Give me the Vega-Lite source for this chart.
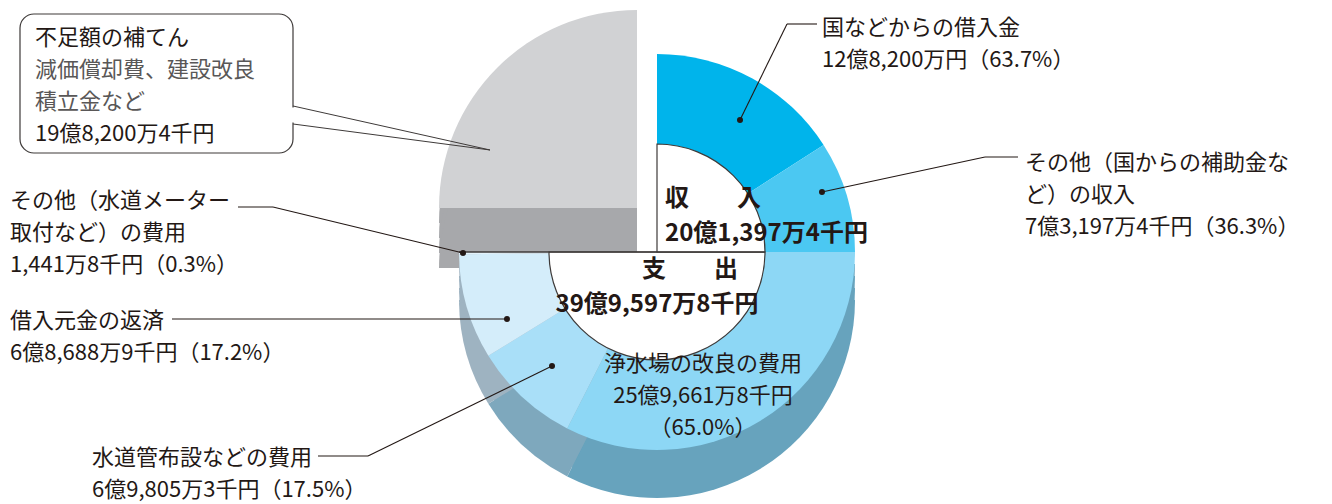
{
"$schema": "https://vega.github.io/schema/vega-lite/v6.json",
"width": 1332, "height": 504, "padding": 0, "autosize": {"type": "none"},
"background": "white",
"config": {"view": {"stroke": null}, "font": "Noto Sans CJK JP"},
"datasets": {
 "income": [
  {"key": "borrow", "item": "国などからの借入金", "amount": 128200, "share": 63.7, "rank": 1, "caption": ["国などからの借入金", "12億8,200万円（63.7%）"]},
  {"key": "subsidy", "item": "その他（国からの補助金など）の収入", "amount": 73197.4, "share": 36.3, "rank": 2, "caption": ["その他（国からの補助金な", "ど）の収入", "7億3,197万4千円（36.3%）"]}
 ],
 "expense": [
  {"key": "plant", "item": "浄水場の改良の費用", "amount": 259661.8, "share": 65.0, "rank": 1, "caption": ["浄水場の改良の費用", "25億9,661万8千円", "（65.0%）"]},
  {"key": "pipe", "item": "水道管布設などの費用", "amount": 69805.3, "share": 17.5, "rank": 2, "caption": ["水道管布設などの費用", "6億9,805万3千円（17.5%）"]},
  {"key": "loan", "item": "借入元金の返済", "amount": 68688.9, "share": 17.2, "rank": 3, "caption": ["借入元金の返済", "6億8,688万9千円（17.2%）"]},
  {"key": "other", "item": "その他（水道メーター取付など）の費用", "amount": 1441.8, "share": 0.3, "rank": 4, "caption": ["その他（水道メーター", "取付など）の費用", "1,441万8千円（0.3%）"]}
 ],
 "shortfall": [
  {"key": "fill", "item": "不足額の補てん", "detail": ["減価償却費、建設改良", "積立金など"], "amount": 198200.4, "yen": "19億8,200万4千円"}
 ],
 "totals": [
  {"key": "in", "title": "収　　入", "amount": 201397.4, "yen": "20億1,397万4千円"},
  {"key": "out", "title": "支　　出", "amount": 399597.8, "yen": "39億9,597万8千円"}
 ]
},
"resolve": {"scale": {"theta": "independent", "color": "independent"}},
"layer": [
 {"data": {"name": "shortfall"}, "mark": {"type": "arc", "outerRadius": 198, "fill": "#a7a8ab", "yOffset": 15},
  "encoding": {"x": {"datum": -0.101, "type": "quantitative", "scale": {"domain": [-3.3182, 3.4091], "nice": false, "zero": false}, "axis": null},
   "y": {"datum": 0.2222, "type": "quantitative", "scale": {"domain": [-1.2727, 1.2727], "nice": false, "zero": false}, "axis": null},
   "theta": {"field": "amount", "type": "quantitative", "stack": true, "scale": {"range": [4.7124, 6.2832], "nice": false}}}},
 {"data": {"name": "shortfall"}, "mark": {"type": "arc", "outerRadius": 198, "fill": "#a7a8ab", "yOffset": 30},
  "encoding": {"x": {"datum": -0.101, "type": "quantitative", "scale": {"domain": [-3.3182, 3.4091], "nice": false, "zero": false}, "axis": null},
   "y": {"datum": 0.2222, "type": "quantitative", "scale": {"domain": [-1.2727, 1.2727], "nice": false, "zero": false}, "axis": null},
   "theta": {"field": "amount", "type": "quantitative", "stack": true, "scale": {"range": [4.7124, 6.2832], "nice": false}}}},
 {"data": {"name": "shortfall"}, "mark": {"type": "arc", "outerRadius": 198, "fill": "#a7a8ab", "yOffset": 45},
  "encoding": {"x": {"datum": -0.101, "type": "quantitative", "scale": {"domain": [-3.3182, 3.4091], "nice": false, "zero": false}, "axis": null},
   "y": {"datum": 0.2222, "type": "quantitative", "scale": {"domain": [-1.2727, 1.2727], "nice": false, "zero": false}, "axis": null},
   "theta": {"field": "amount", "type": "quantitative", "stack": true, "scale": {"range": [4.7124, 6.2832], "nice": false}}}},
 {"data": {"name": "shortfall"}, "mark": {"type": "arc", "outerRadius": 198, "fill": "#a7a8ab", "yOffset": 60},
  "encoding": {"x": {"datum": -0.101, "type": "quantitative", "scale": {"domain": [-3.3182, 3.4091], "nice": false, "zero": false}, "axis": null},
   "y": {"datum": 0.2222, "type": "quantitative", "scale": {"domain": [-1.2727, 1.2727], "nice": false, "zero": false}, "axis": null},
   "theta": {"field": "amount", "type": "quantitative", "stack": true, "scale": {"range": [4.7124, 6.2832], "nice": false}}}},
 {"data": {"name": "shortfall"}, "mark": {"type": "arc", "outerRadius": 198, "fill": "#d1d2d4"},
  "encoding": {"x": {"datum": -0.101, "type": "quantitative", "scale": {"domain": [-3.3182, 3.4091], "nice": false, "zero": false}, "axis": null},
   "y": {"datum": 0.2222, "type": "quantitative", "scale": {"domain": [-1.2727, 1.2727], "nice": false, "zero": false}, "axis": null},
   "theta": {"field": "amount", "type": "quantitative", "stack": true, "scale": {"range": [4.7124, 6.2832], "nice": false}}}},

 {"data": {"name": "expense"}, "mark": {"type": "arc", "outerRadius": 198, "yOffset": 12},
  "encoding": {"x": {"datum": 0, "type": "quantitative", "scale": {"domain": [-3.3182, 3.4091], "nice": false, "zero": false}, "axis": null},
   "y": {"datum": 0, "type": "quantitative", "scale": {"domain": [-1.2727, 1.2727], "nice": false, "zero": false}, "axis": null},
   "theta": {"field": "amount", "type": "quantitative", "stack": true, "scale": {"range": [1.5708, 4.7124], "nice": false}},
   "order": {"field": "rank", "type": "quantitative"},
   "color": {"field": "item", "type": "nominal", "legend": null, "scale": {"domain": ["浄水場の改良の費用", "水道管布設などの費用", "借入元金の返済", "その他（水道メーター取付など）の費用"], "range": ["#67a3bd", "#7ea8bd", "#9eb3c1", "#9eb3c1"]}}}},
 {"data": {"name": "expense"}, "mark": {"type": "arc", "outerRadius": 198, "yOffset": 24},
  "encoding": {"x": {"datum": 0, "type": "quantitative", "scale": {"domain": [-3.3182, 3.4091], "nice": false, "zero": false}, "axis": null},
   "y": {"datum": 0, "type": "quantitative", "scale": {"domain": [-1.2727, 1.2727], "nice": false, "zero": false}, "axis": null},
   "theta": {"field": "amount", "type": "quantitative", "stack": true, "scale": {"range": [1.5708, 4.7124], "nice": false}},
   "order": {"field": "rank", "type": "quantitative"},
   "color": {"field": "item", "type": "nominal", "legend": null, "scale": {"domain": ["浄水場の改良の費用", "水道管布設などの費用", "借入元金の返済", "その他（水道メーター取付など）の費用"], "range": ["#67a3bd", "#7ea8bd", "#9eb3c1", "#9eb3c1"]}}}},
 {"data": {"name": "expense"}, "mark": {"type": "arc", "outerRadius": 198, "yOffset": 36},
  "encoding": {"x": {"datum": 0, "type": "quantitative", "scale": {"domain": [-3.3182, 3.4091], "nice": false, "zero": false}, "axis": null},
   "y": {"datum": 0, "type": "quantitative", "scale": {"domain": [-1.2727, 1.2727], "nice": false, "zero": false}, "axis": null},
   "theta": {"field": "amount", "type": "quantitative", "stack": true, "scale": {"range": [1.5708, 4.7124], "nice": false}},
   "order": {"field": "rank", "type": "quantitative"},
   "color": {"field": "item", "type": "nominal", "legend": null, "scale": {"domain": ["浄水場の改良の費用", "水道管布設などの費用", "借入元金の返済", "その他（水道メーター取付など）の費用"], "range": ["#67a3bd", "#7ea8bd", "#9eb3c1", "#9eb3c1"]}}}},
 {"data": {"name": "expense"}, "mark": {"type": "arc", "outerRadius": 198, "yOffset": 48},
  "encoding": {"x": {"datum": 0, "type": "quantitative", "scale": {"domain": [-3.3182, 3.4091], "nice": false, "zero": false}, "axis": null},
   "y": {"datum": 0, "type": "quantitative", "scale": {"domain": [-1.2727, 1.2727], "nice": false, "zero": false}, "axis": null},
   "theta": {"field": "amount", "type": "quantitative", "stack": true, "scale": {"range": [1.5708, 4.7124], "nice": false}},
   "order": {"field": "rank", "type": "quantitative"},
   "color": {"field": "item", "type": "nominal", "legend": null, "scale": {"domain": ["浄水場の改良の費用", "水道管布設などの費用", "借入元金の返済", "その他（水道メーター取付など）の費用"], "range": ["#67a3bd", "#7ea8bd", "#9eb3c1", "#9eb3c1"]}}}},
 {"data": {"name": "expense"}, "mark": {"type": "arc", "outerRadius": 198},
  "encoding": {"x": {"datum": 0, "type": "quantitative", "scale": {"domain": [-3.3182, 3.4091], "nice": false, "zero": false}, "axis": null},
   "y": {"datum": 0, "type": "quantitative", "scale": {"domain": [-1.2727, 1.2727], "nice": false, "zero": false}, "axis": null},
   "theta": {"field": "amount", "type": "quantitative", "stack": true, "scale": {"range": [1.5708, 4.7124], "nice": false}},
   "order": {"field": "rank", "type": "quantitative"},
   "color": {"field": "item", "type": "nominal", "legend": null, "scale": {"domain": ["浄水場の改良の費用", "水道管布設などの費用", "借入元金の返済", "その他（水道メーター取付など）の費用"], "range": ["#8dd7f5", "#a9dff8", "#d4edfa", "#e4f3fb"]}}}},
 {"data": {"name": "income"}, "mark": {"type": "arc", "outerRadius": 198},
  "encoding": {"x": {"datum": 0, "type": "quantitative", "scale": {"domain": [-3.3182, 3.4091], "nice": false, "zero": false}, "axis": null},
   "y": {"datum": 0, "type": "quantitative", "scale": {"domain": [-1.2727, 1.2727], "nice": false, "zero": false}, "axis": null},
   "theta": {"field": "amount", "type": "quantitative", "stack": true, "scale": {"range": [0, 1.5708], "nice": false}},
   "order": {"field": "rank", "type": "quantitative"},
   "color": {"field": "item", "type": "nominal", "legend": null, "scale": {"domain": ["国などからの借入金", "その他（国からの補助金など）の収入"], "range": ["#00b4eb", "#4bc8f2"]}}}},

 {"data": {"name": "totals"}, "transform": [{"filter": {"field": "key", "equal": "out"}}],
  "mark": {"type": "arc", "outerRadius": 108, "fill": "white", "stroke": "#3e3a39", "strokeWidth": 1.2},
  "encoding": {"x": {"datum": 0, "type": "quantitative", "scale": {"domain": [-3.3182, 3.4091], "nice": false, "zero": false}, "axis": null},
   "y": {"datum": 0, "type": "quantitative", "scale": {"domain": [-1.2727, 1.2727], "nice": false, "zero": false}, "axis": null},
   "theta": {"field": "amount", "type": "quantitative", "stack": true, "scale": {"range": [1.5708, 4.7124], "nice": false}}}},
 {"data": {"name": "totals"}, "transform": [{"filter": {"field": "key", "equal": "in"}}],
  "mark": {"type": "arc", "outerRadius": 108, "fill": "white", "stroke": "#3e3a39", "strokeWidth": 1.2},
  "encoding": {"x": {"datum": 0, "type": "quantitative", "scale": {"domain": [-3.3182, 3.4091], "nice": false, "zero": false}, "axis": null},
   "y": {"datum": 0, "type": "quantitative", "scale": {"domain": [-1.2727, 1.2727], "nice": false, "zero": false}, "axis": null},
   "theta": {"field": "amount", "type": "quantitative", "stack": true, "scale": {"range": [0, 1.5708], "nice": false}}}},
 {"data": {"name": "totals"}, "transform": [{"filter": {"field": "key", "equal": "out"}}],
  "mark": {"type": "rule", "stroke": "#3e3a39", "strokeWidth": 1.3},
  "encoding": {"x": {"datum": -1.0, "type": "quantitative", "scale": {"domain": [-3.3182, 3.4091], "nice": false, "zero": false}, "axis": null},
   "x2": {"datum": 0.5455},
   "y": {"datum": 0, "type": "quantitative", "scale": {"domain": [-1.2727, 1.2727], "nice": false, "zero": false}, "axis": null}}},

 {"data": {"name": "shortfall"}, "mark": {"type": "rect", "cornerRadius": 14, "fill": "white", "stroke": "#3e3a39", "strokeWidth": 1.2},
  "encoding": {"x": {"datum": -3.2172, "type": "quantitative", "scale": {"domain": [-3.3182, 3.4091], "nice": false, "zero": false}, "axis": null},
   "x2": {"datum": -1.8384},
   "y": {"datum": 1.2020, "type": "quantitative", "scale": {"domain": [-1.2727, 1.2727], "nice": false, "zero": false}, "axis": null},
   "y2": {"datum": 0.5}}},
 {"data": {"name": "shortfall"}, "mark": {"type": "rule", "stroke": "white", "strokeWidth": 3},
  "encoding": {"x": {"datum": -1.8384, "type": "quantitative", "scale": {"domain": [-3.3182, 3.4091], "nice": false, "zero": false}, "axis": null},
   "y": {"datum": 0.7298, "type": "quantitative", "scale": {"domain": [-1.2727, 1.2727], "nice": false, "zero": false}, "axis": null},
   "y2": {"datum": 0.6540}}},
 {"data": {"name": "shortfall"}, "mark": {"type": "rule", "stroke": "#3e3a39", "strokeWidth": 1},
  "encoding": {"x": {"datum": -1.8384, "type": "quantitative", "scale": {"domain": [-3.3182, 3.4091], "nice": false, "zero": false}, "axis": null},
   "x2": {"datum": -0.8434},
   "y": {"datum": 0.7374, "type": "quantitative", "scale": {"domain": [-1.2727, 1.2727], "nice": false, "zero": false}, "axis": null},
   "y2": {"datum": 0.5152}}},
 {"data": {"name": "shortfall"}, "mark": {"type": "rule", "stroke": "#3e3a39", "strokeWidth": 1},
  "encoding": {"x": {"datum": -1.8384, "type": "quantitative", "scale": {"domain": [-3.3182, 3.4091], "nice": false, "zero": false}, "axis": null},
   "x2": {"datum": -0.8434},
   "y": {"datum": 0.6465, "type": "quantitative", "scale": {"domain": [-1.2727, 1.2727], "nice": false, "zero": false}, "axis": null},
   "y2": {"datum": 0.5152}}},

 {"data": {"name": "income"}, "transform": [{"filter": {"field": "key", "equal": "borrow"}}], "mark": {"type": "rule", "stroke": "#231815", "strokeWidth": 1.1},
  "encoding": {"x": {"datum": 0.6566, "type": "quantitative", "scale": {"domain": [-3.3182, 3.4091], "nice": false, "zero": false}, "axis": null}, "x2": {"datum": 0.8081},
   "y": {"datum": 1.1515, "type": "quantitative", "scale": {"domain": [-1.2727, 1.2727], "nice": false, "zero": false}, "axis": null}, "y2": {"datum": 1.1515}}},
 {"data": {"name": "income"}, "transform": [{"filter": {"field": "key", "equal": "borrow"}}], "mark": {"type": "rule", "stroke": "#231815", "strokeWidth": 1.1},
  "encoding": {"x": {"datum": 0.6566, "type": "quantitative", "scale": {"domain": [-3.3182, 3.4091], "nice": false, "zero": false}, "axis": null}, "x2": {"datum": 0.4192},
   "y": {"datum": 1.1515, "type": "quantitative", "scale": {"domain": [-1.2727, 1.2727], "nice": false, "zero": false}, "axis": null}, "y2": {"datum": 0.6667}}},
 {"data": {"name": "income"}, "transform": [{"filter": {"field": "key", "equal": "subsidy"}}], "mark": {"type": "rule", "stroke": "#231815", "strokeWidth": 1.1},
  "encoding": {"x": {"datum": 1.6566, "type": "quantitative", "scale": {"domain": [-3.3182, 3.4091], "nice": false, "zero": false}, "axis": null}, "x2": {"datum": 1.8232},
   "y": {"datum": 0.4798, "type": "quantitative", "scale": {"domain": [-1.2727, 1.2727], "nice": false, "zero": false}, "axis": null}, "y2": {"datum": 0.4798}}},
 {"data": {"name": "income"}, "transform": [{"filter": {"field": "key", "equal": "subsidy"}}], "mark": {"type": "rule", "stroke": "#231815", "strokeWidth": 1.1},
  "encoding": {"x": {"datum": 1.6566, "type": "quantitative", "scale": {"domain": [-3.3182, 3.4091], "nice": false, "zero": false}, "axis": null}, "x2": {"datum": 0.8333},
   "y": {"datum": 0.4798, "type": "quantitative", "scale": {"domain": [-1.2727, 1.2727], "nice": false, "zero": false}, "axis": null}, "y2": {"datum": 0.3030}}},
 {"data": {"name": "expense"}, "transform": [{"filter": {"field": "key", "equal": "other"}}], "mark": {"type": "rule", "stroke": "#231815", "strokeWidth": 1.1},
  "encoding": {"x": {"datum": -2.1162, "type": "quantitative", "scale": {"domain": [-3.3182, 3.4091], "nice": false, "zero": false}, "axis": null}, "x2": {"datum": -1.9394},
   "y": {"datum": 0.2273, "type": "quantitative", "scale": {"domain": [-1.2727, 1.2727], "nice": false, "zero": false}, "axis": null}, "y2": {"datum": 0.2273}}},
 {"data": {"name": "expense"}, "transform": [{"filter": {"field": "key", "equal": "other"}}], "mark": {"type": "rule", "stroke": "#231815", "strokeWidth": 1.1},
  "encoding": {"x": {"datum": -1.9394, "type": "quantitative", "scale": {"domain": [-3.3182, 3.4091], "nice": false, "zero": false}, "axis": null}, "x2": {"datum": -0.9798},
   "y": {"datum": 0.2273, "type": "quantitative", "scale": {"domain": [-1.2727, 1.2727], "nice": false, "zero": false}, "axis": null}, "y2": {"datum": -0.0051}}},
 {"data": {"name": "expense"}, "transform": [{"filter": {"field": "key", "equal": "loan"}}], "mark": {"type": "rule", "stroke": "#231815", "strokeWidth": 1.1},
  "encoding": {"x": {"datum": -2.4495, "type": "quantitative", "scale": {"domain": [-3.3182, 3.4091], "nice": false, "zero": false}, "axis": null}, "x2": {"datum": -0.7576},
   "y": {"datum": -0.3384, "type": "quantitative", "scale": {"domain": [-1.2727, 1.2727], "nice": false, "zero": false}, "axis": null}, "y2": {"datum": -0.3384}}},
 {"data": {"name": "expense"}, "transform": [{"filter": {"field": "key", "equal": "pipe"}}], "mark": {"type": "rule", "stroke": "#231815", "strokeWidth": 1.1},
  "encoding": {"x": {"datum": -1.7121, "type": "quantitative", "scale": {"domain": [-3.3182, 3.4091], "nice": false, "zero": false}, "axis": null}, "x2": {"datum": -1.4596},
   "y": {"datum": -1.0303, "type": "quantitative", "scale": {"domain": [-1.2727, 1.2727], "nice": false, "zero": false}, "axis": null}, "y2": {"datum": -1.0303}}},
 {"data": {"name": "expense"}, "transform": [{"filter": {"field": "key", "equal": "pipe"}}], "mark": {"type": "rule", "stroke": "#231815", "strokeWidth": 1.1},
  "encoding": {"x": {"datum": -1.4596, "type": "quantitative", "scale": {"domain": [-3.3182, 3.4091], "nice": false, "zero": false}, "axis": null}, "x2": {"datum": -0.5303},
   "y": {"datum": -1.0303, "type": "quantitative", "scale": {"domain": [-1.2727, 1.2727], "nice": false, "zero": false}, "axis": null}, "y2": {"datum": -0.5758}}},

 {"data": {"name": "income"}, "transform": [{"filter": {"field": "key", "equal": "borrow"}}], "mark": {"type": "point", "filled": true, "size": 36, "color": "#231815", "opacity": 1},
  "encoding": {"x": {"datum": 0.4192, "type": "quantitative", "scale": {"domain": [-3.3182, 3.4091], "nice": false, "zero": false}, "axis": null},
   "y": {"datum": 0.6667, "type": "quantitative", "scale": {"domain": [-1.2727, 1.2727], "nice": false, "zero": false}, "axis": null}}},
 {"data": {"name": "income"}, "transform": [{"filter": {"field": "key", "equal": "subsidy"}}], "mark": {"type": "point", "filled": true, "size": 36, "color": "#231815", "opacity": 1},
  "encoding": {"x": {"datum": 0.8333, "type": "quantitative", "scale": {"domain": [-3.3182, 3.4091], "nice": false, "zero": false}, "axis": null},
   "y": {"datum": 0.3030, "type": "quantitative", "scale": {"domain": [-1.2727, 1.2727], "nice": false, "zero": false}, "axis": null}}},
 {"data": {"name": "expense"}, "transform": [{"filter": {"field": "key", "equal": "other"}}], "mark": {"type": "point", "filled": true, "size": 36, "color": "#231815", "opacity": 1},
  "encoding": {"x": {"datum": -0.9798, "type": "quantitative", "scale": {"domain": [-3.3182, 3.4091], "nice": false, "zero": false}, "axis": null},
   "y": {"datum": -0.0051, "type": "quantitative", "scale": {"domain": [-1.2727, 1.2727], "nice": false, "zero": false}, "axis": null}}},
 {"data": {"name": "expense"}, "transform": [{"filter": {"field": "key", "equal": "loan"}}], "mark": {"type": "point", "filled": true, "size": 36, "color": "#231815", "opacity": 1},
  "encoding": {"x": {"datum": -0.7576, "type": "quantitative", "scale": {"domain": [-3.3182, 3.4091], "nice": false, "zero": false}, "axis": null},
   "y": {"datum": -0.3384, "type": "quantitative", "scale": {"domain": [-1.2727, 1.2727], "nice": false, "zero": false}, "axis": null}}},
 {"data": {"name": "expense"}, "transform": [{"filter": {"field": "key", "equal": "pipe"}}], "mark": {"type": "point", "filled": true, "size": 36, "color": "#231815", "opacity": 1},
  "encoding": {"x": {"datum": -0.5303, "type": "quantitative", "scale": {"domain": [-3.3182, 3.4091], "nice": false, "zero": false}, "axis": null},
   "y": {"datum": -0.5758, "type": "quantitative", "scale": {"domain": [-1.2727, 1.2727], "nice": false, "zero": false}, "axis": null}}},

 {"data": {"name": "income"}, "transform": [{"filter": {"field": "key", "equal": "borrow"}}], "mark": {"type": "text", "align": "left", "baseline": "middle", "fontSize": 22, "lineHeight": 32, "font": "Noto Sans CJK JP", "fill": "#231815"},
  "encoding": {"x": {"datum": 0.8333, "type": "quantitative", "scale": {"domain": [-3.3182, 3.4091], "nice": false, "zero": false}, "axis": null},
   "y": {"datum": 1.1313, "type": "quantitative", "scale": {"domain": [-1.2727, 1.2727], "nice": false, "zero": false}, "axis": null},
   "text": {"field": "caption", "type": "nominal"}}},
 {"data": {"name": "income"}, "transform": [{"filter": {"field": "key", "equal": "subsidy"}}], "mark": {"type": "text", "align": "left", "baseline": "middle", "fontSize": 22, "lineHeight": 32, "font": "Noto Sans CJK JP", "fill": "#231815"},
  "encoding": {"x": {"datum": 1.8586, "type": "quantitative", "scale": {"domain": [-3.3182, 3.4091], "nice": false, "zero": false}, "axis": null},
   "y": {"datum": 0.4495, "type": "quantitative", "scale": {"domain": [-1.2727, 1.2727], "nice": false, "zero": false}, "axis": null},
   "text": {"field": "caption", "type": "nominal"}}},
 {"data": {"name": "expense"}, "transform": [{"filter": {"field": "key", "equal": "other"}}], "mark": {"type": "text", "align": "left", "baseline": "middle", "fontSize": 22, "lineHeight": 32, "font": "Noto Sans CJK JP", "fill": "#231815"},
  "encoding": {"x": {"datum": -3.2677, "type": "quantitative", "scale": {"domain": [-3.3182, 3.4091], "nice": false, "zero": false}, "axis": null},
   "y": {"datum": 0.2576, "type": "quantitative", "scale": {"domain": [-1.2727, 1.2727], "nice": false, "zero": false}, "axis": null},
   "text": {"field": "caption", "type": "nominal"}}},
 {"data": {"name": "expense"}, "transform": [{"filter": {"field": "key", "equal": "loan"}}], "mark": {"type": "text", "align": "left", "baseline": "middle", "fontSize": 22, "lineHeight": 32, "font": "Noto Sans CJK JP", "fill": "#231815"},
  "encoding": {"x": {"datum": -3.2677, "type": "quantitative", "scale": {"domain": [-3.3182, 3.4091], "nice": false, "zero": false}, "axis": null},
   "y": {"datum": -0.3485, "type": "quantitative", "scale": {"domain": [-1.2727, 1.2727], "nice": false, "zero": false}, "axis": null},
   "text": {"field": "caption", "type": "nominal"}}},
 {"data": {"name": "expense"}, "transform": [{"filter": {"field": "key", "equal": "pipe"}}], "mark": {"type": "text", "align": "left", "baseline": "middle", "fontSize": 22, "lineHeight": 32, "font": "Noto Sans CJK JP", "fill": "#231815"},
  "encoding": {"x": {"datum": -2.8535, "type": "quantitative", "scale": {"domain": [-3.3182, 3.4091], "nice": false, "zero": false}, "axis": null},
   "y": {"datum": -1.0404, "type": "quantitative", "scale": {"domain": [-1.2727, 1.2727], "nice": false, "zero": false}, "axis": null},
   "text": {"field": "caption", "type": "nominal"}}},
 {"data": {"name": "expense"}, "transform": [{"filter": {"field": "key", "equal": "plant"}}], "mark": {"type": "text", "align": "center", "baseline": "middle", "fontSize": 22, "lineHeight": 32, "font": "Noto Sans CJK JP", "fill": "#231815"},
  "encoding": {"x": {"datum": 0.2323, "type": "quantitative", "scale": {"domain": [-3.3182, 3.4091], "nice": false, "zero": false}, "axis": null},
   "y": {"datum": -0.5657, "type": "quantitative", "scale": {"domain": [-1.2727, 1.2727], "nice": false, "zero": false}, "axis": null},
   "text": {"field": "caption", "type": "nominal"}}},

 {"data": {"name": "shortfall"}, "mark": {"type": "text", "align": "left", "baseline": "middle", "fontSize": 22, "font": "Noto Sans CJK JP", "fill": "#231815"},
  "encoding": {"x": {"datum": -3.1414, "type": "quantitative", "scale": {"domain": [-3.3182, 3.4091], "nice": false, "zero": false}, "axis": null},
   "y": {"datum": 1.0808, "type": "quantitative", "scale": {"domain": [-1.2727, 1.2727], "nice": false, "zero": false}, "axis": null},
   "text": {"field": "item", "type": "nominal"}}},
 {"data": {"name": "shortfall"}, "mark": {"type": "text", "align": "left", "baseline": "middle", "fontSize": 22, "lineHeight": 32, "font": "Noto Sans CJK JP", "fill": "#595757"},
  "encoding": {"x": {"datum": -3.1414, "type": "quantitative", "scale": {"domain": [-3.3182, 3.4091], "nice": false, "zero": false}, "axis": null},
   "y": {"datum": 0.9192, "type": "quantitative", "scale": {"domain": [-1.2727, 1.2727], "nice": false, "zero": false}, "axis": null},
   "text": {"field": "detail", "type": "nominal"}}},
 {"data": {"name": "shortfall"}, "mark": {"type": "text", "align": "left", "baseline": "middle", "fontSize": 22, "font": "Noto Sans CJK JP", "fill": "#231815"},
  "encoding": {"x": {"datum": -3.1414, "type": "quantitative", "scale": {"domain": [-3.3182, 3.4091], "nice": false, "zero": false}, "axis": null},
   "y": {"datum": 0.5960, "type": "quantitative", "scale": {"domain": [-1.2727, 1.2727], "nice": false, "zero": false}, "axis": null},
   "text": {"field": "yen", "type": "nominal"}}},

 {"data": {"name": "totals"}, "transform": [{"filter": {"field": "key", "equal": "in"}}], "mark": {"type": "text", "align": "left", "baseline": "middle", "fontSize": 24, "fontWeight": "bold", "font": "Noto Sans CJK JP", "fill": "#231815"},
  "encoding": {"x": {"datum": 0.0404, "type": "quantitative", "scale": {"domain": [-3.3182, 3.4091], "nice": false, "zero": false}, "axis": null},
   "y": {"datum": 0.2677, "type": "quantitative", "scale": {"domain": [-1.2727, 1.2727], "nice": false, "zero": false}, "axis": null},
   "text": {"field": "title", "type": "nominal"}}},
 {"data": {"name": "totals"}, "transform": [{"filter": {"field": "key", "equal": "in"}}], "mark": {"type": "text", "align": "left", "baseline": "middle", "fontSize": 24, "fontWeight": "bold", "font": "Noto Sans CJK JP", "fill": "#231815"},
  "encoding": {"x": {"datum": 0.0404, "type": "quantitative", "scale": {"domain": [-3.3182, 3.4091], "nice": false, "zero": false}, "axis": null},
   "y": {"datum": 0.0909, "type": "quantitative", "scale": {"domain": [-1.2727, 1.2727], "nice": false, "zero": false}, "axis": null},
   "text": {"field": "yen", "type": "nominal"}}},
 {"data": {"name": "totals"}, "transform": [{"filter": {"field": "key", "equal": "out"}}], "mark": {"type": "text", "align": "left", "baseline": "middle", "fontSize": 24, "fontWeight": "bold", "font": "Noto Sans CJK JP", "fill": "#231815"},
  "encoding": {"x": {"datum": -0.0758, "type": "quantitative", "scale": {"domain": [-3.3182, 3.4091], "nice": false, "zero": false}, "axis": null},
   "y": {"datum": -0.0909, "type": "quantitative", "scale": {"domain": [-1.2727, 1.2727], "nice": false, "zero": false}, "axis": null},
   "text": {"field": "title", "type": "nominal"}}},
 {"data": {"name": "totals"}, "transform": [{"filter": {"field": "key", "equal": "out"}}], "mark": {"type": "text", "align": "center", "baseline": "middle", "fontSize": 24, "fontWeight": "bold", "font": "Noto Sans CJK JP", "fill": "#231815"},
  "encoding": {"x": {"datum": 0, "type": "quantitative", "scale": {"domain": [-3.3182, 3.4091], "nice": false, "zero": false}, "axis": null},
   "y": {"datum": -0.2677, "type": "quantitative", "scale": {"domain": [-1.2727, 1.2727], "nice": false, "zero": false}, "axis": null},
   "text": {"field": "yen", "type": "nominal"}}}
]
}
